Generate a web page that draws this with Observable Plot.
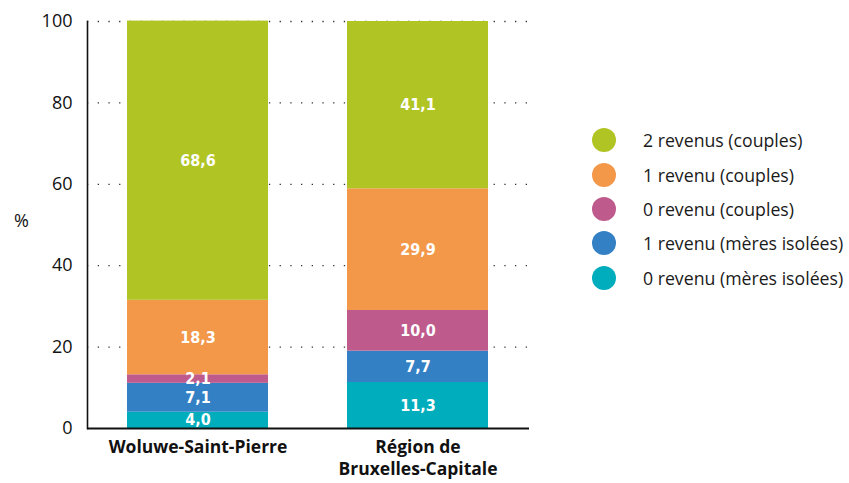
<!DOCTYPE html>
<html>
<head>
<meta charset="utf-8">
<script src="https://cdn.jsdelivr.net/npm/d3@7"></script>
<script src="https://cdn.jsdelivr.net/npm/@observablehq/plot@0.6"></script>
<style>
  html, body { margin: 0; padding: 0; background: #fff; }
  #wrap { position: relative; width: 849px; height: 483px; font-family: "Open Sans", "Noto Sans", sans-serif; }
  #chart { position: absolute; left: 0; top: 0; }
  #ylab { position: absolute; left: 14px; top: 208px; font-size: 18px; color: #111; }
  #legend { position: absolute; left: 592px; top: 123px; }
  .row { display: flex; align-items: center; height: 34.4px; font-size: 17.7px; color: #1a1a1a; white-space: nowrap; }
  .sw { width: 24px; height: 24px; border-radius: 50%; margin-right: 27px; flex: none; }
</style>
</head>
<body>
<div id="wrap">
  <div id="chart"></div>
  <div id="ylab">%</div>
  <div id="legend"></div>
</div>
<script>
const categories = ["Woluwe-Saint-Pierre", "Région de Bruxelles-Capitale"];
const series = ["0 revenu (mères isolées)", "1 revenu (mères isolées)", "0 revenu (couples)", "1 revenu (couples)", "2 revenus (couples)"];
const colors = ["#00adbc", "#3480c4", "#be5b8c", "#f39748", "#b0c424"];
const woluwe = [4.0, 7.1, 2.1, 18.3, 68.6];
const region = [11.3, 7.7, 10.0, 29.9, 41.1];
const yTicks = [0, 20, 40, 60, 80, 100];
const xTickLabels = ["Woluwe-Saint-Pierre", "Région de\nBruxelles-Capitale"];

const data = [];
[woluwe, region].forEach((vals, ci) => {
  vals.forEach((v, si) => data.push({cat: categories[ci], series: series[si], value: v}));
});

const fmt = v => v.toFixed(1).replace(".", ",");

const chart = Plot.plot({
  width: 560,
  height: 483,
  marginLeft: 87,
  marginRight: 31,
  marginTop: 21,
  marginBottom: 55,
  style: {fontFamily: "'Open Sans', 'Noto Sans', sans-serif", background: "transparent"},
  x: {domain: categories, paddingInner: 0.357, paddingOuter: 0.179, axis: null},
  y: {domain: [0, 100], axis: null},
  color: {domain: series, range: colors},
  marks: [
    Plot.gridY(yTicks.filter(d => d > 0), {stroke: "#333", strokeOpacity: 1, strokeWidth: 1.3, strokeDasharray: "1.3,9.4"}),
    Plot.barY(data, {x: "cat", y: "value", fill: "series", order: series}),
    Plot.text(data, Plot.stackY({x: "cat", y: "value", z: "series", order: series, text: d => fmt(d.value), fill: "white", fontWeight: "bold", fontSize: 16, fontFamily: "'DejaVu Sans Condensed', sans-serif"})),
    Plot.axisY({ticks: yTicks, tickSize: 0, tickPadding: 15, fontSize: 18, tickFormat: d => d, label: null, color: "#111"}),
    Plot.axisX({tickSize: 0, tickPadding: 9, fontSize: 17.5, fontWeight: "bold", lineHeight: 1.25, tickFormat: (d) => xTickLabels[categories.indexOf(d)], label: null, color: "#111"}),
    Plot.frame({anchor: "left", stroke: "#111", strokeWidth: 1.6}),
    Plot.ruleY([0], {stroke: "#111", strokeWidth: 2})
  ]
});
document.getElementById("chart").appendChild(chart);

const legend = document.getElementById("legend");
[...series].reverse().forEach((s) => {
  const i = series.indexOf(s);
  const row = document.createElement("div");
  row.className = "row";
  const sw = document.createElement("div");
  sw.className = "sw";
  sw.style.background = colors[i];
  const t = document.createElement("span");
  t.textContent = s;
  row.appendChild(sw);
  row.appendChild(t);
  legend.appendChild(row);
});
</script>
</body>
</html>
